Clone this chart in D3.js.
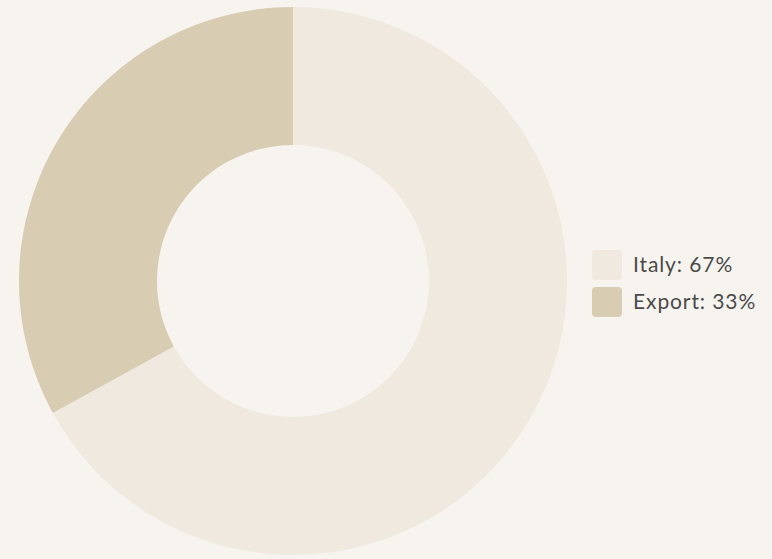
<!DOCTYPE html>
<html><head><meta charset="utf-8">
<script src="https://cdn.jsdelivr.net/npm/d3@7"></script>
<style>html,body{margin:0;padding:0;background:#f7f4ef;}svg{display:block;}</style>
</head><body>
<svg id="chart" width="772" height="559"></svg>
<script>
const categories = ["Italy", "Export"];
const values = [67, 33];
const colors = ["#efe9df", "#d8cdb3"];

const svg = d3.select("#chart");
const cx = 293, cy = 281, rOuter = 274, rInner = 136;
const pie = d3.pie().sort(null).value(d => d)(values);
const arc = d3.arc().innerRadius(rInner).outerRadius(rOuter);
const color = d3.scaleOrdinal().domain(categories).range(colors);

svg.append("g").attr("transform", `translate(${cx},${cy})`)
  .selectAll("path").data(pie).join("path")
  .attr("d", arc).attr("fill", (d, i) => color(categories[i]));

const legend = svg.append("g").attr("transform", "translate(592,250)");
const y = d3.scalePoint().domain(categories).range([0, 37]);
const items = legend.selectAll("g").data(categories).join("g")
  .attr("transform", d => `translate(0,${y(d)})`);
items.append("rect").attr("width", 30).attr("height", 30).attr("rx", 4)
  .attr("fill", d => color(d));
items.append("text").attr("x", 41).attr("y", 22)
  .attr("font-family", "Lato, 'Open Sans', sans-serif").attr("font-size", 21)
  .attr("letter-spacing", 0.9)
  .attr("fill", "#4a4a4a")
  .text((d, i) => `${d}: ${values[i]}%`);
</script>
</body></html>
